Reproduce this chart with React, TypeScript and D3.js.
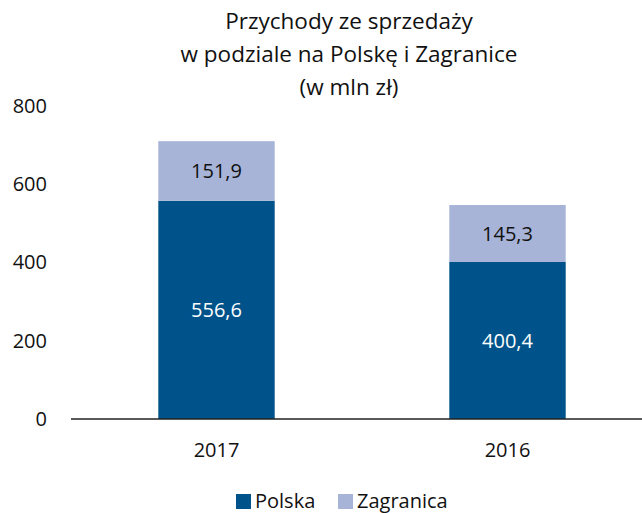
import * as d3 from "d3";

const W = 642;
const H = 513;

const years = ["2017", "2016"];
const polska = [556.6, 400.4];
const zagranica = [151.9, 145.3];
const yTicks = [0, 200, 400, 600, 800];
const titleLines = ["Przychody ze sprzedaży", "w podziale na Polskę i Zagranice", "(w mln zł)"];
const seriesNames = ["Polska", "Zagranica"];

const COLORS = ["#00538a", "#a7b4d8"];
const FONT = "'Open Sans', sans-serif";
const fmt = (v: number) => v.toFixed(1).replace(".", ",");

export default function App() {
  const x = d3.scaleBand().domain(years).range([71, 653]).paddingInner(0.6).paddingOuter(0.3);
  const y = d3.scaleLinear().domain([0, 800]).range([419, 105.3]);

  const rows = years.map((yr, i) => ({ year: yr, Polska: polska[i], Zagranica: zagranica[i] }));
  const stacked = d3.stack<any>().keys(seriesNames)(rows);

  return (
    <svg width={W} height={H} style={{ position: "absolute", left: 0, top: 0 }} fontFamily={FONT}>
      <rect width={W} height={H} fill="#fff" />
      {titleLines.map((t, i) => (
        <text key={i} x={349} y={29 + i * 33} textAnchor="middle" fontSize={22.5} fill="#111">
          {t}
        </text>
      ))}

      {yTicks.map((t) => (
        <text key={t} x={47} y={y(t)} dy="0.36em" textAnchor="end" fontSize={20} fill="#111">
          {t}
        </text>
      ))}

      {stacked.map((s, si) =>
        s.map((d, i) => {
          const x0 = x(years[i]) ?? 0;
          const y0 = y(d[1]);
          const h = y(d[0]) - y(d[1]);
          return (
            <g key={`${si}-${i}`}>
              <rect x={x0} y={y0} width={x.bandwidth()} height={h} fill={COLORS[si]} />
              <text
                x={x0 + x.bandwidth() / 2}
                y={y0 + h / 2}
                dy="0.36em"
                textAnchor="middle"
                fontSize={20}
                fill={si === 0 ? "#fff" : "#111"}
              >
                {fmt(d[1] - d[0])}
              </text>
            </g>
          );
        })
      )}

      <line x1={71} x2={W} y1={y(0)} y2={y(0)} stroke="#222" strokeWidth={1.5} />

      {years.map((yr) => (
        <text key={yr} x={(x(yr) ?? 0) + x.bandwidth() / 2} y={457} textAnchor="middle" fontSize={20} fill="#111">
          {yr}
        </text>
      ))}

      {seriesNames.map((n, i) => {
        const lx = [236, 338][i];
        return (
          <g key={n}>
            <rect x={lx} y={494} width={15} height={15} fill={COLORS[i]} />
            <text x={lx + 19} y={508} fontSize={20} fill="#111">
              {n}
            </text>
          </g>
        );
      })}
    </svg>
  );
}
